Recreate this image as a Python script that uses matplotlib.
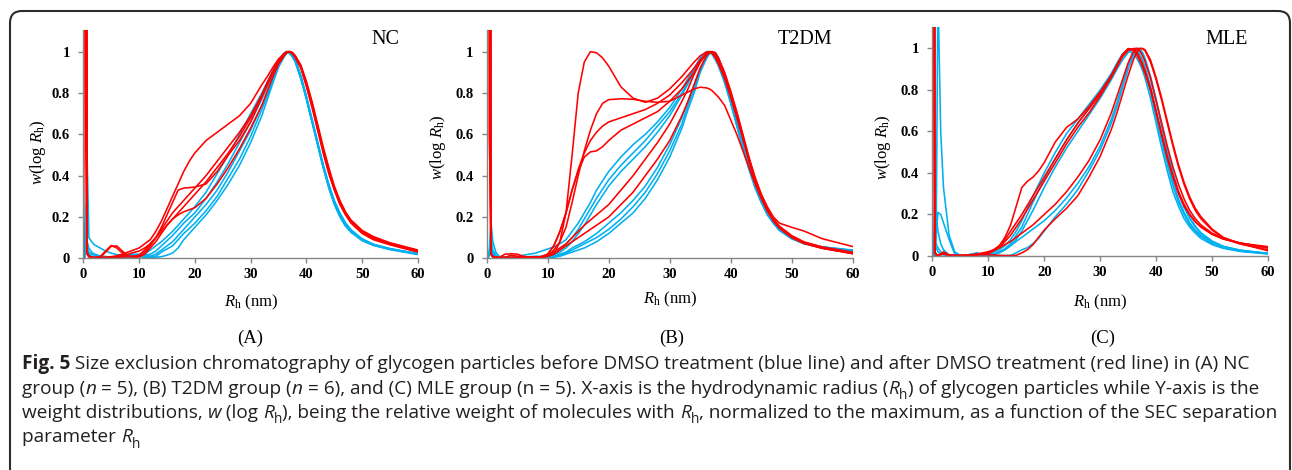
import matplotlib
matplotlib.use("Agg")
import matplotlib.pyplot as plt
from matplotlib.patches import FancyBboxPatch
from matplotlib.transforms import IdentityTransform
from matplotlib.font_manager import FontProperties

plt.rcParams['font.family'] = ['Liberation Serif', 'DejaVu Serif']
plt.rcParams['mathtext.fontset'] = 'custom'
plt.rcParams['mathtext.rm'] = 'Liberation Serif'
plt.rcParams['mathtext.it'] = 'Liberation Serif:italic'
plt.rcParams['mathtext.bf'] = 'Liberation Serif:bold'

# ---------------- data ----------------
# common x grid (nm): spike | low | rise | mid | peak | fall | tail
RH = ([0, 0.2, 0.45, 0.7, 1, 1.5, 2] + [3, 4, 5, 6, 7, 8, 9] +
      [10, 11, 12, 13, 14, 15, 16, 17, 18, 19] +
      [20, 22, 24, 26, 28, 30, 32, 33, 34, 35] + [36, 36.5, 37, 37.5, 38] +
      [39, 40, 41, 42, 43, 44, 45, 46, 47, 48] + [50, 52, 55, 60])

X_TICKS = [0, 10, 20, 30, 40, 50, 60]
Y_TICKS = [0, 0.2, 0.4, 0.6, 0.8, 1.0]
Y_TICK_LABELS = ['0', '0.2', '0.4', '0.6', '0.8', '1']
GROUPS = ['NC', 'T2DM', 'MLE']
PANEL_TAGS = ['(A)', '(B)', '(C)']

NC_BLUE = [
    [0, 0, 0.2, 0.48, 0.1, 0.08, 0.065, 0.05, 0.035, 0.025, 0.018, 0.013, 0.01, 0.01,
     0.01, 0.02, 0.04, 0.06, 0.08, 0.105, 0.13, 0.16, 0.19, 0.22,
     0.25, 0.32, 0.41, 0.5, 0.6, 0.7, 0.8, 0.855, 0.91, 0.96, 0.995, 1.0, 0.99, 0.975, 0.95,
     0.87, 0.77, 0.66, 0.55, 0.44, 0.34, 0.26, 0.2, 0.155, 0.125, 0.085, 0.062, 0.042, 0.018],
    [0, 0, 0.25, 0.08, 0.05, 0.03, 0.02, 0.012, 0.008, 0.005, 0.005, 0.005, 0.005, 0.008,
     0.01, 0.015, 0.02, 0.035, 0.06, 0.085, 0.11, 0.14, 0.17, 0.195,
     0.22, 0.29, 0.37, 0.46, 0.56, 0.66, 0.77, 0.83, 0.89, 0.945, 0.99, 1.0, 0.995, 0.975, 0.95,
     0.87, 0.77, 0.66, 0.55, 0.44, 0.345, 0.265, 0.205, 0.16, 0.13, 0.088, 0.064, 0.043, 0.02],
    [0, 0, 0.12, 0.06, 0.03, 0.02, 0.015, 0.01, 0.008, 0.006, 0.006, 0.01, 0.015, 0.02,
     0.02, 0.015, 0.01, 0.02, 0.04, 0.06, 0.08, 0.11, 0.14, 0.17,
     0.2, 0.26, 0.33, 0.42, 0.52, 0.62, 0.74, 0.8, 0.87, 0.935, 0.985, 0.998, 1.0, 0.985, 0.955,
     0.875, 0.775, 0.665, 0.555, 0.445, 0.35, 0.27, 0.21, 0.165, 0.13, 0.09, 0.066, 0.045, 0.022],
    [0, 0, 0.1, 0.05, 0.02, 0.01, 0.008, 0.005, 0.004, 0.004, 0.005, 0.008, 0.012, 0.015,
     0.015, 0.01, 0.008, 0.01, 0.03, 0.045, 0.06, 0.09, 0.12, 0.145,
     0.17, 0.23, 0.3, 0.39, 0.48, 0.59, 0.72, 0.79, 0.86, 0.93, 0.98, 0.995, 1.0, 0.99, 0.96,
     0.88, 0.78, 0.67, 0.56, 0.45, 0.355, 0.275, 0.215, 0.17, 0.135, 0.092, 0.067, 0.046, 0.022],
    [0, 0, 0.08, 0.04, 0.015, 0.008, 0.005, 0.003, 0.003, 0.003, 0.004, 0.005, 0.006, 0.008,
     0.008, 0.005, 0.004, 0.005, 0.008, 0.015, 0.025, 0.05, 0.09, 0.12,
     0.15, 0.21, 0.28, 0.36, 0.45, 0.56, 0.69, 0.77, 0.85, 0.925, 0.975, 0.992, 1.0, 0.99, 0.965,
     0.885, 0.785, 0.675, 0.565, 0.455, 0.36, 0.28, 0.22, 0.172, 0.138, 0.094, 0.068, 0.047, 0.023],
]
NC_RED = [
    [0, 6, 6, 0.03, 0.01, 0.005, 0.003, 0.003, 0.005, 0.008, 0.012, 0.02, 0.03, 0.04,
     0.05, 0.07, 0.09, 0.13, 0.18, 0.24, 0.3, 0.36, 0.42, 0.47,
     0.51, 0.57, 0.61, 0.65, 0.69, 0.75, 0.84, 0.88, 0.925, 0.965, 0.99, 1.0, 1.0, 0.995, 0.98,
     0.93, 0.85, 0.75, 0.64, 0.53, 0.43, 0.34, 0.27, 0.22, 0.18, 0.13, 0.1, 0.07, 0.035],
    [0, 6, 0.6, 0.02, 0.008, 0.004, 0.003, 0.005, 0.03, 0.058, 0.06, 0.035, 0.012, 0.008,
     0.01, 0.03, 0.06, 0.1, 0.15, 0.21, 0.27, 0.33, 0.34, 0.342,
     0.345, 0.36, 0.42, 0.5, 0.57, 0.66, 0.78, 0.84, 0.9, 0.955, 0.99, 1.0, 1.0, 0.99, 0.97,
     0.92, 0.83, 0.73, 0.62, 0.51, 0.41, 0.33, 0.26, 0.21, 0.17, 0.12, 0.09, 0.065, 0.03],
    [0, 6, 0.6, 0.02, 0.008, 0.004, 0.003, 0.008, 0.035, 0.062, 0.05, 0.025, 0.01, 0.006,
     0.006, 0.02, 0.05, 0.08, 0.12, 0.16, 0.19, 0.21, 0.225, 0.235,
     0.245, 0.29, 0.36, 0.44, 0.53, 0.63, 0.74, 0.81, 0.88, 0.94, 0.98, 0.995, 1.0, 0.995, 0.975,
     0.93, 0.84, 0.74, 0.63, 0.52, 0.42, 0.335, 0.265, 0.215, 0.175, 0.125, 0.095, 0.068, 0.032],
    [0, 6, 6, 0.03, 0.01, 0.005, 0.003, 0.003, 0.004, 0.005, 0.008, 0.012, 0.02, 0.028,
     0.035, 0.05, 0.07, 0.1, 0.13, 0.16, 0.19, 0.22, 0.25, 0.28,
     0.31, 0.37, 0.44, 0.51, 0.59, 0.68, 0.79, 0.85, 0.905, 0.955, 0.99, 1.0, 1.0, 0.99, 0.975,
     0.925, 0.84, 0.74, 0.63, 0.52, 0.42, 0.335, 0.27, 0.22, 0.18, 0.13, 0.1, 0.072, 0.038],
    [0, 6, 3, 0.02, 0.008, 0.004, 0.003, 0.003, 0.003, 0.004, 0.005, 0.006, 0.008, 0.01,
     0.015, 0.04, 0.07, 0.1, 0.14, 0.18, 0.22, 0.25, 0.28, 0.31,
     0.34, 0.4, 0.47, 0.54, 0.61, 0.69, 0.79, 0.85, 0.905, 0.955, 0.985, 0.998, 1.0, 0.995, 0.98,
     0.935, 0.855, 0.76, 0.65, 0.54, 0.44, 0.35, 0.28, 0.225, 0.185, 0.135, 0.105, 0.075, 0.04],
]

T2DM_BLUE = [
    [0, 0, 0.05, 0.18, 0.08, 0.03, 0.01, 0.005, 0.005, 0.008, 0.015, 0.02, 0.025, 0.035,
     0.045, 0.055, 0.07, 0.09, 0.13, 0.17, 0.22, 0.27, 0.33, 0.375,
     0.42, 0.49, 0.55, 0.6, 0.66, 0.73, 0.82, 0.87, 0.92, 0.97, 1.0, 1.0, 0.985, 0.96, 0.93,
     0.85, 0.75, 0.64, 0.53, 0.43, 0.34, 0.27, 0.21, 0.17, 0.135, 0.095, 0.072, 0.055, 0.035],
    [0, 0, 0.03, 0.1, 0.04, 0.015, 0.005, 0.003, 0.003, 0.004, 0.006, 0.008, 0.01, 0.01,
     0.01, 0.02, 0.04, 0.07, 0.1, 0.14, 0.19, 0.24, 0.29, 0.335,
     0.38, 0.45, 0.51, 0.57, 0.64, 0.71, 0.8, 0.855, 0.91, 0.96, 0.995, 1.0, 0.99, 0.965, 0.935,
     0.855, 0.755, 0.645, 0.535, 0.435, 0.345, 0.275, 0.215, 0.17, 0.135, 0.095, 0.07, 0.05, 0.03],
    [0, 0, 0.02, 0.06, 0.03, 0.01, 0.004, 0.003, 0.003, 0.003, 0.004, 0.005, 0.006, 0.006,
     0.006, 0.015, 0.03, 0.05, 0.08, 0.12, 0.16, 0.21, 0.26, 0.305,
     0.35, 0.42, 0.48, 0.54, 0.61, 0.69, 0.79, 0.845, 0.9, 0.955, 0.99, 1.0, 0.99, 0.97, 0.94,
     0.86, 0.76, 0.65, 0.54, 0.44, 0.35, 0.28, 0.22, 0.175, 0.14, 0.1, 0.075, 0.055, 0.038],
    [0, 0, 0.02, 0.05, 0.02, 0.008, 0.004, 0.003, 0.003, 0.003, 0.003, 0.004, 0.004, 0.004,
     0.005, 0.01, 0.02, 0.03, 0.05, 0.065, 0.08, 0.1, 0.12, 0.145,
     0.17, 0.22, 0.28, 0.35, 0.44, 0.55, 0.68, 0.76, 0.84, 0.92, 0.975, 0.995, 1.0, 0.99, 0.96,
     0.875, 0.77, 0.655, 0.545, 0.44, 0.35, 0.28, 0.22, 0.175, 0.14, 0.1, 0.075, 0.055, 0.04],
    [0, 0, 0.02, 0.04, 0.015, 0.006, 0.003, 0.002, 0.002, 0.002, 0.002, 0.003, 0.003, 0.003,
     0.004, 0.006, 0.015, 0.025, 0.04, 0.055, 0.07, 0.085, 0.1, 0.12,
     0.14, 0.19, 0.25, 0.32, 0.41, 0.52, 0.65, 0.74, 0.82, 0.91, 0.97, 0.99, 1.0, 0.99, 0.965,
     0.88, 0.775, 0.66, 0.55, 0.445, 0.355, 0.285, 0.225, 0.178, 0.142, 0.1, 0.075, 0.054, 0.033],
    [0, 0, 0.02, 0.03, 0.01, 0.005, 0.002, 0.002, 0.002, 0.002, 0.002, 0.002, 0.002, 0.002,
     0.003, 0.005, 0.01, 0.02, 0.03, 0.04, 0.05, 0.065, 0.08, 0.1,
     0.12, 0.17, 0.22, 0.29, 0.38, 0.49, 0.63, 0.72, 0.8, 0.9, 0.965, 0.99, 1.0, 0.995, 0.97,
     0.885, 0.78, 0.665, 0.555, 0.45, 0.36, 0.29, 0.23, 0.18, 0.145, 0.1, 0.074, 0.052, 0.03],
]
T2DM_RED = [
    [0, 6, 6, 0.02, 0.008, 0.004, 0.003, 0.02, 0.022, 0.02, 0.01, 0.005, 0.005, 0.006,
     0.01, 0.02, 0.08, 0.22, 0.5, 0.8, 0.95, 1.0, 0.995, 0.97,
     0.93, 0.83, 0.775, 0.755, 0.775, 0.82, 0.88, 0.915, 0.95, 0.98, 0.998, 1.0, 0.99, 0.97, 0.94,
     0.87, 0.78, 0.68, 0.58, 0.48, 0.39, 0.31, 0.25, 0.2, 0.17, 0.15, 0.132, 0.095, 0.057],
    [0, 6, 0.6, 0.02, 0.008, 0.004, 0.003, 0.005, 0.015, 0.01, 0.005, 0.004, 0.004, 0.006,
     0.01, 0.04, 0.08, 0.15, 0.27, 0.4, 0.52, 0.62, 0.7, 0.75,
     0.768, 0.772, 0.77, 0.76, 0.755, 0.76, 0.79, 0.805, 0.82, 0.828, 0.825, 0.82, 0.81, 0.795, 0.78,
     0.74, 0.67, 0.6, 0.52, 0.44, 0.36, 0.29, 0.23, 0.19, 0.155, 0.11, 0.08, 0.055, 0.03],
    [0, 6, 6, 0.02, 0.008, 0.004, 0.003, 0.003, 0.004, 0.004, 0.004, 0.004, 0.005, 0.008,
     0.02, 0.06, 0.13, 0.22, 0.33, 0.42, 0.49, 0.515, 0.52, 0.54,
     0.57, 0.62, 0.65, 0.68, 0.71, 0.76, 0.82, 0.86, 0.9, 0.95, 0.99, 1.0, 1.0, 0.985, 0.96,
     0.89, 0.8, 0.7, 0.59, 0.48, 0.38, 0.3, 0.235, 0.185, 0.15, 0.105, 0.075, 0.05, 0.025],
    [0, 6, 0.6, 0.02, 0.008, 0.004, 0.003, 0.003, 0.003, 0.003, 0.004, 0.004, 0.005, 0.008,
     0.02, 0.06, 0.13, 0.22, 0.33, 0.43, 0.51, 0.57, 0.61, 0.64,
     0.66, 0.68, 0.7, 0.72, 0.75, 0.79, 0.85, 0.885, 0.92, 0.96, 0.99, 1.0, 0.995, 0.98, 0.955,
     0.885, 0.79, 0.69, 0.58, 0.47, 0.375, 0.295, 0.23, 0.18, 0.145, 0.1, 0.072, 0.048, 0.023],
    [0, 6, 3, 0.02, 0.008, 0.004, 0.003, 0.003, 0.003, 0.003, 0.004, 0.005, 0.006, 0.008,
     0.015, 0.03, 0.05, 0.07, 0.1, 0.13, 0.16, 0.185, 0.21, 0.235,
     0.26, 0.33, 0.4, 0.48, 0.56, 0.65, 0.76, 0.82, 0.89, 0.95, 0.99, 1.0, 1.0, 0.99, 0.965,
     0.895, 0.8, 0.7, 0.59, 0.48, 0.38, 0.3, 0.235, 0.185, 0.148, 0.104, 0.073, 0.049, 0.024],
    [0, 6, 6, 0.02, 0.008, 0.004, 0.003, 0.003, 0.003, 0.003, 0.003, 0.004, 0.005, 0.006,
     0.01, 0.02, 0.04, 0.06, 0.08, 0.1, 0.12, 0.14, 0.16, 0.18,
     0.2, 0.26, 0.32, 0.4, 0.48, 0.57, 0.69, 0.76, 0.84, 0.92, 0.98, 0.995, 1.0, 0.995, 0.97,
     0.9, 0.81, 0.71, 0.6, 0.49, 0.39, 0.31, 0.245, 0.19, 0.15, 0.105, 0.074, 0.05, 0.022],
]

MLE_BLUE = [
    [0, 0, 0, 0.1, 1.3, 0.6, 0.33, 0.1, 0.02, 0.003, 0.003, 0.008, 0.012, 0.01,
     0.01, 0.02, 0.03, 0.05, 0.08, 0.12, 0.17, 0.23, 0.29, 0.345,
     0.4, 0.5, 0.59, 0.66, 0.73, 0.8, 0.88, 0.93, 0.975, 0.995, 0.97, 0.955, 0.93, 0.9, 0.86,
     0.76, 0.64, 0.52, 0.41, 0.31, 0.24, 0.18, 0.14, 0.11, 0.085, 0.055, 0.037, 0.022, 0.01],
    [0, 0, 0, 0.1, 0.21, 0.2, 0.16, 0.08, 0.01, 0.002, 0.002, 0.005, 0.008, 0.006,
     0.006, 0.01, 0.02, 0.035, 0.06, 0.1, 0.14, 0.2, 0.26, 0.315,
     0.37, 0.47, 0.56, 0.64, 0.71, 0.79, 0.87, 0.92, 0.965, 0.99, 0.995, 0.985, 0.96, 0.93, 0.89,
     0.79, 0.67, 0.55, 0.44, 0.34, 0.26, 0.2, 0.15, 0.12, 0.095, 0.06, 0.04, 0.024, 0.011],
    [0, 0, 0.25, 0.2, 0.12, 0.06, 0.03, 0.005, 0.002, 0.002, 0.002, 0.004, 0.006, 0.006,
     0.006, 0.008, 0.015, 0.03, 0.05, 0.08, 0.12, 0.17, 0.22, 0.275,
     0.33, 0.43, 0.52, 0.6, 0.68, 0.76, 0.85, 0.9, 0.945, 0.98, 0.998, 0.995, 0.975, 0.95, 0.915,
     0.82, 0.7, 0.58, 0.46, 0.36, 0.275, 0.21, 0.16, 0.125, 0.1, 0.065, 0.042, 0.025, 0.012],
    [0, 0, 0.05, 0.06, 0.04, 0.02, 0.01, 0.003, 0.002, 0.002, 0.002, 0.003, 0.004, 0.005,
     0.005, 0.01, 0.02, 0.03, 0.05, 0.07, 0.09, 0.11, 0.13, 0.15,
     0.17, 0.22, 0.28, 0.35, 0.43, 0.53, 0.66, 0.74, 0.83, 0.92, 0.98, 1.0, 0.995, 0.975, 0.945,
     0.855, 0.745, 0.625, 0.505, 0.395, 0.305, 0.235, 0.18, 0.14, 0.11, 0.07, 0.046, 0.028, 0.012],
    [0, 0, 0.03, 0.04, 0.02, 0.01, 0.005, 0.002, 0.002, 0.002, 0.002, 0.01, 0.015, 0.005,
     0.002, 0.002, 0.002, 0.002, 0.003, 0.015, 0.03, 0.04, 0.06, 0.085,
     0.12, 0.19, 0.25, 0.32, 0.41, 0.51, 0.64, 0.72, 0.81, 0.9, 0.97, 0.995, 1.0, 0.985, 0.955,
     0.865, 0.755, 0.635, 0.515, 0.405, 0.31, 0.24, 0.185, 0.145, 0.112, 0.072, 0.047, 0.028, 0.013],
]
MLE_RED = [
    [0, 6, 0.02, 0.005, 0.003, 0.01, 0.02, 0.005, 0.002, 0.002, 0.003, 0.005, 0.008, 0.01,
     0.02, 0.03, 0.05, 0.09, 0.15, 0.24, 0.33, 0.36, 0.38, 0.41,
     0.45, 0.55, 0.62, 0.66, 0.72, 0.79, 0.87, 0.92, 0.97, 1.0, 0.99, 0.97, 0.945, 0.915, 0.88,
     0.8, 0.69, 0.58, 0.47, 0.38, 0.3, 0.24, 0.2, 0.165, 0.14, 0.105, 0.082, 0.062, 0.045],
    [0, 6, 0.02, 0.005, 0.003, 0.008, 0.015, 0.004, 0.002, 0.002, 0.003, 0.005, 0.008, 0.012,
     0.015, 0.03, 0.05, 0.08, 0.12, 0.16, 0.2, 0.245, 0.29, 0.335,
     0.38, 0.47, 0.56, 0.64, 0.71, 0.78, 0.87, 0.92, 0.97, 0.998, 0.998, 0.985, 0.96, 0.93, 0.895,
     0.81, 0.7, 0.59, 0.48, 0.39, 0.31, 0.25, 0.2, 0.165, 0.14, 0.105, 0.082, 0.062, 0.04],
    [0, 6, 0.02, 0.005, 0.003, 0.006, 0.012, 0.004, 0.002, 0.002, 0.003, 0.004, 0.006, 0.01,
     0.012, 0.025, 0.04, 0.07, 0.1, 0.14, 0.18, 0.225, 0.27, 0.315,
     0.36, 0.45, 0.54, 0.62, 0.69, 0.77, 0.86, 0.91, 0.96, 0.99, 1.0, 1.0, 0.99, 0.97, 0.94,
     0.86, 0.75, 0.64, 0.53, 0.43, 0.345, 0.275, 0.22, 0.18, 0.15, 0.11, 0.085, 0.063, 0.038],
    [0, 6, 0.02, 0.005, 0.003, 0.008, 0.015, 0.004, 0.002, 0.002, 0.003, 0.005, 0.01, 0.015,
     0.02, 0.03, 0.04, 0.055, 0.07, 0.09, 0.11, 0.13, 0.15, 0.175,
     0.2, 0.25, 0.31, 0.38, 0.46, 0.56, 0.69, 0.77, 0.85, 0.93, 0.99, 1.0, 1.0, 1.0, 0.99,
     0.935, 0.85, 0.75, 0.64, 0.53, 0.43, 0.345, 0.275, 0.22, 0.18, 0.125, 0.085, 0.058, 0.03],
    [0, 6, 0.02, 0.005, 0.003, 0.006, 0.01, 0.003, 0.002, 0.002, 0.002, 0.003, 0.005, 0.006,
     0.006, 0.005, 0.003, 0.002, 0.002, 0.003, 0.015, 0.03, 0.055, 0.09,
     0.125, 0.18, 0.23, 0.29, 0.38, 0.48, 0.61, 0.69, 0.78, 0.87, 0.95, 0.98, 0.998, 1.0, 0.995,
     0.945, 0.86, 0.76, 0.65, 0.54, 0.44, 0.355, 0.285, 0.23, 0.19, 0.13, 0.09, 0.06, 0.025],
]

CAPTION_LINES = [
    [("Fig. 5", "b"), (" Size exclusion chromatography of glycogen particles before DMSO treatment "
                       "(blue line) and after DMSO treatment (red line) in (A) NC", "n")],
    [("group (", "n"), ("n", "i"), (" = 5), (B) T2DM group (", "n"), ("n", "i"),
     (" = 6), and (C) MLE group (n = 5). X-axis is the hydrodynamic radius (", "n"),
     ("R", "i"), ("h", "s"), (") of glycogen particles while Y-axis is the", "n")],
    [("weight distributions, ", "n"), ("w", "i"), (" (log ", "n"), ("R", "i"), ("h", "s"),
     ("), being the relative weight of molecules with ", "n"), ("R", "i"), ("h", "s"),
     (", normalized to the maximum, as a function of the SEC separation", "n")],
    [("parameter ", "n"), ("R", "i"), ("h", "s")],
]
CAPTION_RIGHT = [1262, 1262, 1272, None]

# ---------------- figure ----------------
W, H = 1292, 470
fig = plt.figure(figsize=(W / 100, H / 100), dpi=100)
fig.patch.set_facecolor('white')

BLUE = '#00B0F0'
RED = '#FF0000'
SPINE = '#868686'
YMAX = 1.105

# (left, top, right, bottom) in pixels
BOXES = [(83.3, 30.0, 418.0, 258.3), (486.7, 30.0, 852.7, 258.3), (932.3, 26.7, 1268.0, 256.0)]
NAME_POS = [(385, 40), (805, 40), (1227, 40)]
TAG_POS = [(250, 338), (672, 338), (1103, 338)]
YLAB_X = [38, 438, 883]
XLAB_Y = [302, 299, 302]
YLAB_Y = [152, 147, 147]

data = [(NC_BLUE, NC_RED), (T2DM_BLUE, T2DM_RED), (MLE_BLUE, MLE_RED)]

for i, (l, t, r, b) in enumerate(BOXES):
    ax = fig.add_axes([l / W, 1 - b / H, (r - l) / W, (b - t) / H])
    blues, reds = data[i]
    for yv in blues:
        ax.plot(RH[:len(yv)], yv, color=BLUE, lw=1.15, solid_joinstyle='round')
    for yv in reds:
        ax.plot(RH[:len(yv)], yv, color=RED, lw=1.15, solid_joinstyle='round')
    ax.set_xlim(0, 60)
    ax.set_ylim(0, YMAX)
    for s in ['top', 'right']:
        ax.spines[s].set_visible(False)
    for s in ['left', 'bottom']:
        ax.spines[s].set_color(SPINE)
        ax.spines[s].set_linewidth(1.0)
    ax.set_xticks(X_TICKS)
    ax.set_xticklabels([str(v) for v in X_TICKS], fontweight='bold', fontsize=10.5)
    ax.set_yticks(Y_TICKS)
    ax.set_yticklabels(Y_TICK_LABELS, fontweight='bold', fontsize=10.5)
    ax.tick_params(axis='both', direction='out', length=3.5, width=1.0, color=SPINE)
    ax.tick_params(axis='x', pad=3.5)
    ax.tick_params(axis='y', pad=6)
    ax.set_xlabel(r'$R_{\mathrm{h}}$ (nm)', fontsize=12)
    ax.set_ylabel(r'$w$(log $R_{\mathrm{h}}$)', fontsize=12)
    ax.xaxis.set_label_coords(((l + r) / 2 - l) / (r - l), (b - XLAB_Y[i]) / (b - t))
    ax.xaxis.label.set_verticalalignment('center')
    ax.yaxis.set_label_coords((YLAB_X[i] - l) / (r - l), (b - YLAB_Y[i]) / (b - t))
    ax.yaxis.label.set_verticalalignment('center')
    fig.text(NAME_POS[i][0] / W, 1 - NAME_POS[i][1] / H, GROUPS[i], fontsize=14.5,
             ha='center', va='center')
    fig.text(TAG_POS[i][0] / W, 1 - TAG_POS[i][1] / H, PANEL_TAGS[i], fontsize=13.5,
             ha='center', va='center')

# ---------------- caption ----------------
renderer = fig.canvas.get_renderer()
CAP_FAMILY = ['Open Sans', 'DejaVu Sans']


def props(style, size):
    if style == 'b':
        return FontProperties(family=CAP_FAMILY, weight='bold', size=size)
    if style == 'i':
        return FontProperties(family=CAP_FAMILY, style='italic', size=size)
    if style == 's':
        return FontProperties(family=CAP_FAMILY, size=size * 0.72)
    return FontProperties(family=CAP_FAMILY, size=size)


def width_of(s, fp):
    w1 = renderer.get_text_width_height_descent(s + '|', fp, ismath=False)[0]
    w2 = renderer.get_text_width_height_descent('|', fp, ismath=False)[0]
    return w1 - w2


def line_width(runs, size):
    return sum(width_of(s, props(st, size)) for s, st in runs)


CAP_X = 22.0
base = 12.0
sizes = []
for runs, right in zip(CAPTION_LINES, CAPTION_RIGHT):
    if right is not None:
        sizes.append(base * (right - CAP_X) / line_width(runs, base))
size = max(9.0, min(14.0, min(sizes)))

BASELINES = [369, 393.5, 418, 442.5]
for runs, yb in zip(CAPTION_LINES, BASELINES):
    x = CAP_X
    for s, st in runs:
        fp = props(st, size)
        dy = -size * 0.28 * 100 / 72 if st == 's' else 0
        fig.text(x / W, 1 - (yb - dy) / H, s, fontproperties=fp, color='#231F20',
                 ha='left', va='baseline')
        x += width_of(s, fp)

# ---------------- frame ----------------
frame = FancyBboxPatch((10, -40), 1280, (H - 11) + 40, boxstyle='round,pad=0,rounding_size=12',
                       transform=IdentityTransform(), fill=False, edgecolor='#2b2b2b', lw=1.5)
fig.add_artist(frame)

fig.savefig('out.png', dpi=100)
